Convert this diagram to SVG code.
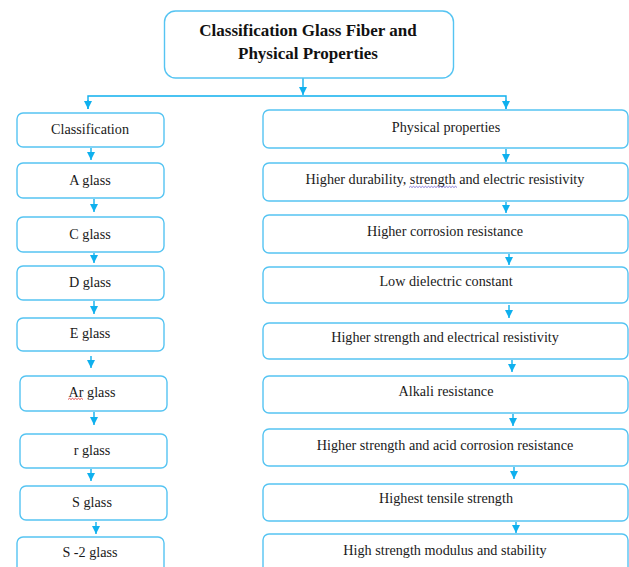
<svg xmlns="http://www.w3.org/2000/svg" width="629" height="567" viewBox="0 0 629 567">
<style>
.box{fill:#fff;stroke:#55c4f2;stroke-width:1.4}
.t{font-family:"Liberation Serif","Times New Roman",serif;font-size:14.2px;fill:#1a1a1a;text-anchor:middle}
.title{font-family:"Liberation Serif","Times New Roman",serif;font-size:17px;font-weight:bold;fill:#111;text-anchor:middle}
.c{stroke:#0fb0ee;stroke-width:1.4;fill:none}
.a{stroke:#0fb0ee;stroke-width:1.4;fill:none;marker-end:url(#ah)}
</style>
<defs>
<marker id="ah" viewBox="0 0 8 8" refX="8" refY="4" markerWidth="8" markerHeight="8" markerUnits="userSpaceOnUse" orient="auto">
<path d="M0,0 L8,4 L0,8 z" fill="#0fb0ee"/>
</marker>
</defs>
<rect width="629" height="567" fill="#fff"/>
<g id="connectors">
<line class="a" x1="303" y1="78" x2="303" y2="95"/>
<polyline class="c" points="88,109 88,96 506,96 506,109"/>
<line class="a" x1="88" y1="100" x2="88" y2="109"/>
<line class="a" x1="506" y1="100" x2="506" y2="109"/>
<line class="a" x1="91" y1="148" x2="91" y2="160"/>
<line class="a" x1="94" y1="199" x2="94" y2="212"/>
<line class="a" x1="94" y1="253" x2="94" y2="263"/>
<line class="a" x1="94" y1="301" x2="94" y2="314"/>
<line class="a" x1="91" y1="356" x2="91" y2="368"/>
<line class="a" x1="94" y1="412" x2="94" y2="425"/>
<line class="a" x1="91" y1="469" x2="91" y2="481"/>
<line class="a" x1="96" y1="522" x2="96" y2="534"/>
<line class="a" x1="506" y1="149" x2="506" y2="162"/>
<line class="a" x1="506" y1="202" x2="506" y2="213"/>
<line class="a" x1="509" y1="254" x2="509" y2="265"/>
<line class="a" x1="509" y1="305" x2="509" y2="318"/>
<line class="a" x1="512" y1="360" x2="512" y2="372"/>
<line class="a" x1="513" y1="414" x2="513" y2="426"/>
<line class="a" x1="514" y1="467" x2="514" y2="479"/>
<line class="a" x1="516" y1="522" x2="516" y2="533"/>
</g>
<g id="root">
<rect class="box" x="164.5" y="11" width="289" height="67" rx="11"/>
<text class="title" x="308" y="36">Classification Glass Fiber and</text>
<text class="title" x="308" y="59">Physical Properties</text>
</g>
<g id="classification">
<rect class="box" x="17" y="113" width="147" height="34" rx="6"/>
<text class="t" x="90" y="134">Classification</text>
</g>
<g id="a-glass">
<rect class="box" x="17" y="163" width="147" height="35" rx="6"/>
<text class="t" x="90" y="185">A glass</text>
</g>
<g id="c-glass">
<rect class="box" x="17" y="217" width="147" height="35" rx="6"/>
<text class="t" x="90" y="239">C glass</text>
</g>
<g id="d-glass">
<rect class="box" x="17" y="266" width="147" height="34" rx="6"/>
<text class="t" x="90" y="287">D glass</text>
</g>
<g id="e-glass">
<rect class="box" x="17" y="318" width="147" height="33" rx="6"/>
<text class="t" x="90" y="338">E glass</text>
</g>
<g id="ar-glass">
<rect class="box" x="20" y="376" width="147" height="35" rx="6"/>
<text class="t" x="92" y="397">Ar glass</text>
<path d="M68,399.5 l1.5,-1.2 l1.5,1.2 l1.5,-1.2 l1.5,1.2 l1.5,-1.2 l1.5,1.2 l1.5,-1.2 l1.5,1.2 l1.5,-1.2 l1.5,1.2" fill="none" stroke="#e02020" stroke-width="0.8"/>
</g>
<g id="r-glass">
<rect class="box" x="20" y="434" width="147" height="34" rx="6"/>
<text class="t" x="92" y="455">r glass</text>
</g>
<g id="s-glass">
<rect class="box" x="20" y="486" width="147" height="34" rx="6"/>
<text class="t" x="92" y="507">S glass</text>
</g>
<g id="s2-glass">
<rect class="box" x="17" y="537" width="147" height="40" rx="6"/>
<text class="t" x="90" y="557">S -2 glass</text>
</g>
<g id="physical-properties">
<rect class="box" x="263" y="110" width="365" height="38" rx="6"/>
<text class="t" x="446" y="132">Physical properties</text>
</g>
<g id="p-durability">
<rect class="box" x="263" y="163" width="365" height="38" rx="6"/>
<text class="t" x="445" y="184">Higher durability, strength and electric resistivity</text>
<path d="M409,187.5 l1.5,-1.2 l1.5,1.2 l1.5,-1.2 l1.5,1.2 l1.5,-1.2 l1.5,1.2 l1.5,-1.2 l1.5,1.2 l1.5,-1.2 l1.5,1.2 l1.5,-1.2 l1.5,1.2 l1.5,-1.2 l1.5,1.2 l1.5,-1.2 l1.5,1.2 l1.5,-1.2 l1.5,1.2 l1.5,-1.2 l1.5,1.2 l1.5,-1.2 l1.5,1.2 l1.5,-1.2 l1.5,1.2 l1.5,-1.2 l1.5,1.2 l1.5,-1.2 l1.5,1.2 l1.5,-1.2 l1.5,1.2 l1.5,-1.2 l1.5,1.2" fill="none" stroke="#6a5acd" stroke-width="0.8"/>
</g>
<g id="p-corrosion">
<rect class="box" x="263" y="215" width="365" height="38" rx="6"/>
<text class="t" x="445" y="236">Higher corrosion resistance</text>
</g>
<g id="p-dielectric">
<rect class="box" x="263" y="267" width="365" height="36" rx="6"/>
<text class="t" x="446" y="286">Low dielectric constant</text>
</g>
<g id="p-strength-electrical">
<rect class="box" x="263" y="323" width="365" height="36" rx="6"/>
<text class="t" x="445" y="342">Higher strength and electrical resistivity</text>
</g>
<g id="p-alkali">
<rect class="box" x="263" y="376" width="365" height="37" rx="6"/>
<text class="t" x="446" y="396">Alkali resistance</text>
</g>
<g id="p-acid">
<rect class="box" x="263" y="429" width="365" height="37" rx="6"/>
<text class="t" x="445" y="450">Higher strength and acid corrosion resistance</text>
</g>
<g id="p-tensile">
<rect class="box" x="263" y="484" width="365" height="37" rx="6"/>
<text class="t" x="446" y="503">Highest tensile strength</text>
</g>
<g id="p-modulus">
<rect class="box" x="263" y="534" width="365" height="40" rx="6"/>
<text class="t" x="445" y="555">High strength modulus and stability</text>
</g>
</svg>
